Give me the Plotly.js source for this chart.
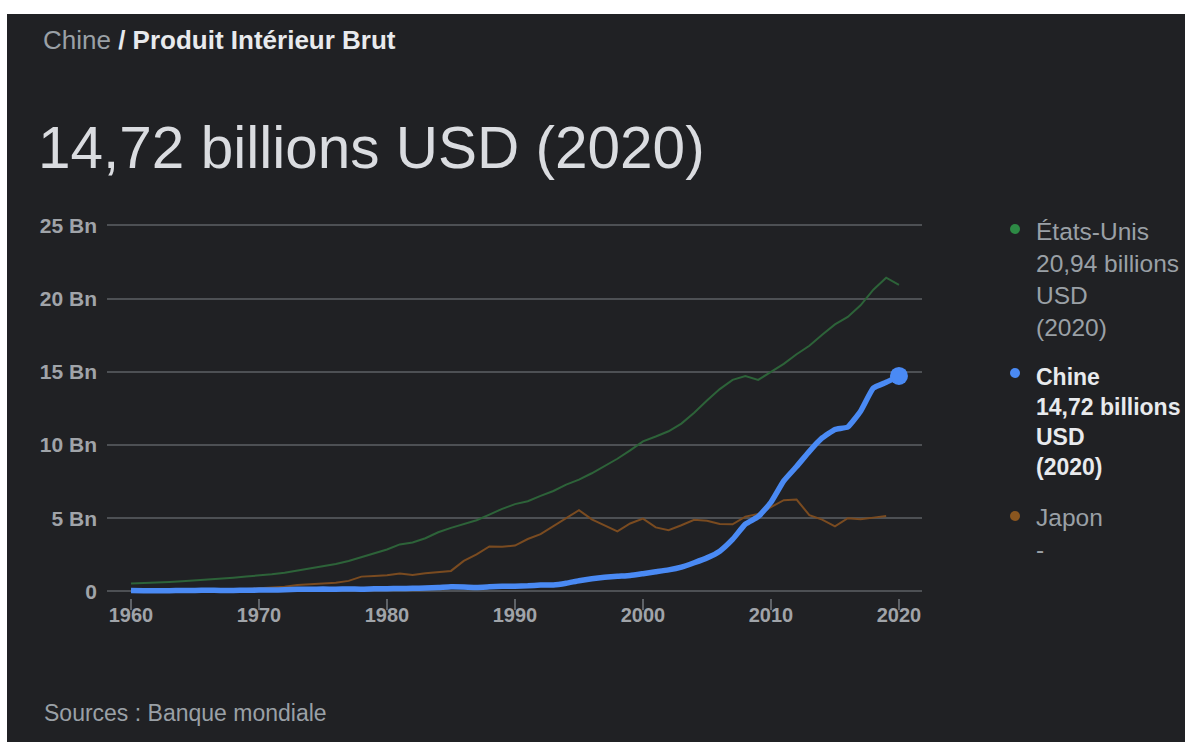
<!DOCTYPE html>
<html>
<head>
<meta charset="utf-8">
<script src="https://cdn.plot.ly/plotly-3.0.1.min.js"></script>
<style>
  html, body { margin: 0; padding: 0; background: #ffffff; width: 1185px; height: 742px; overflow: hidden; }
  #chart { position: absolute; left: 7px; top: 14px; width: 1178px; height: 728px; }
</style>
</head>
<body>
<div id="chart"></div>
<script>
// ---- Data (GDP, trillions of USD = "billions" in French long scale) ----
const years = [1960,1961,1962,1963,1964,1965,1966,1967,1968,1969,
               1970,1971,1972,1973,1974,1975,1976,1977,1978,1979,
               1980,1981,1982,1983,1984,1985,1986,1987,1988,1989,
               1990,1991,1992,1993,1994,1995,1996,1997,1998,1999,
               2000,2001,2002,2003,2004,2005,2006,2007,2008,2009,
               2010,2011,2012,2013,2014,2015,2016,2017,2018,2019,2020];

const usa = [0.54,0.56,0.61,0.64,0.69,0.74,0.82,0.86,0.94,1.02,
             1.07,1.17,1.28,1.43,1.55,1.68,1.87,2.08,2.35,2.63,
             2.86,3.21,3.34,3.63,4.04,4.34,4.58,4.86,5.24,5.64,
             5.96,6.16,6.52,6.86,7.29,7.64,8.07,8.58,9.06,9.63,
             10.25,10.58,10.94,11.46,12.21,13.04,13.82,14.45,14.71,14.45,
             14.99,15.54,16.20,16.78,17.53,18.24,18.75,19.54,20.61,21.43,20.94];

const china = [0.06,0.05,0.05,0.05,0.06,0.07,0.08,0.07,0.07,0.08,
               0.09,0.10,0.11,0.14,0.14,0.16,0.15,0.17,0.15,0.18,
               0.19,0.20,0.21,0.23,0.26,0.31,0.30,0.27,0.31,0.35,
               0.36,0.38,0.43,0.44,0.56,0.73,0.86,0.96,1.03,1.09,
               1.21,1.34,1.47,1.66,1.96,2.29,2.75,3.55,4.59,5.10,
               6.09,7.55,8.53,9.57,10.48,11.06,11.23,12.31,13.89,14.28,14.72];

const japan = [0.04,0.05,0.06,0.07,0.08,0.09,0.11,0.12,0.15,0.17,
               0.21,0.24,0.32,0.43,0.48,0.52,0.59,0.72,1.01,1.06,
               1.11,1.22,1.13,1.24,1.32,1.40,2.08,2.53,3.07,3.05,
               3.13,3.58,3.91,4.45,5.00,5.55,4.92,4.49,4.10,4.64,
               4.97,4.37,4.18,4.52,4.89,4.83,4.60,4.58,5.11,5.29,
               5.76,6.23,6.27,5.21,4.90,4.44,5.00,4.93,5.04,5.15,null];

const xTicks = [1960,1970,1980,1990,2000,2010,2020];
const yTicks = [0,5,10,15,20,25];
const yTickText = ["0","5 Bn","10 Bn","15 Bn","20 Bn","25 Bn"];

const seriesNames = ["États-Unis","Chine","Japon"];
const legendValues = ["20,94 billions<br>USD<br>(2020)","14,72 billions<br>USD<br>(2020)","-"];
const headline = "14,72 billions USD (2020)";
const breadcrumbCountry = "Chine";
const breadcrumbTopic = "Produit Intérieur Brut";
const sourceText = "Sources : Banque mondiale";

// ---- Layout geometry ----
const W = 1178, H = 728, OX = 7, OY = 14;
const M = {l: 100, r: 263, t: 207, b: 144};
const PW = W - M.l - M.r, PH = H - M.t - M.b;
function fx(xPage){ return (xPage - OX - M.l) / PW; }
function fy(yPage){ return (H - M.b - (yPage - OY)) / PH; }

const FONT = "Liberation Sans, Arial, Helvetica, sans-serif";
const GREEN = "#2d6339", BLUE = "#4a8af4", BROWN = "#7a4b20";
const DOT_GREEN = "#2d8a45", DOT_BROWN = "#8a561f";

const traces = [
  {x: years, y: usa, type: "scatter", mode: "lines", line: {color: GREEN, width: 2}, hoverinfo: "skip"},
  {x: years, y: japan, type: "scatter", mode: "lines", line: {color: BROWN, width: 2}, hoverinfo: "skip"},
  {x: years, y: china, type: "scatter", mode: "lines", line: {color: BLUE, width: 5.5, shape: "spline", smoothing: 0.4}, hoverinfo: "skip"},
  {x: [years[years.length-1]], y: [china[china.length-1]], type: "scatter", mode: "markers",
   marker: {color: BLUE, size: 18}, hoverinfo: "skip", cliponaxis: false}
];

function dot(cx, cy, color){
  return {type: "circle", xref: "paper", yref: "paper", layer: "above",
          x0: fx(cx - 5), x1: fx(cx + 5), y0: fy(cy + 5), y1: fy(cy - 5),
          fillcolor: color, line: {width: 0}};
}

const shapes = [dot(1015, 229, DOT_GREEN), dot(1015, 373, BLUE), dot(1015, 516, DOT_BROWN)];

const annotations = [
  {xref: "paper", yref: "paper", x: fx(41), y: fy(40), xanchor: "left", yanchor: "middle", showarrow: false,
   text: '<span style="color:#9aa0a6">' + breadcrumbCountry + '</span> <b>/ ' + breadcrumbTopic + '</b>',
   font: {family: FONT, size: 26, color: "#e8eaed"}},
  {xref: "paper", yref: "paper", x: fx(36), y: fy(147), xanchor: "left", yanchor: "middle", showarrow: false,
   text: headline, font: {family: FONT, size: 58.5, color: "#dadce0"}},
  {xref: "paper", yref: "paper", x: fx(42), y: fy(713), xanchor: "left", yanchor: "middle", showarrow: false,
   text: sourceText, font: {family: FONT, size: 23, color: "#9aa0a6"}},
  // legend texts
  {xref: "paper", yref: "paper", x: fx(1034), y: fy(279), xanchor: "left", yanchor: "middle", showarrow: false, align: "left",
   text: seriesNames[0] + "<br>" + legendValues[0], font: {family: FONT, size: 24.5, color: "#9aa0a6"}},
  {xref: "paper", yref: "paper", x: fx(1034), y: fy(422), xanchor: "left", yanchor: "middle", showarrow: false, align: "left",
   text: "<b>" + seriesNames[1] + "<br>" + legendValues[1] + "</b>", font: {family: FONT, size: 23, color: "#e8eaed"}},
  {xref: "paper", yref: "paper", x: fx(1034), y: fy(533), xanchor: "left", yanchor: "middle", showarrow: false, align: "left",
   text: seriesNames[2] + "<br>" + legendValues[2], font: {family: FONT, size: 24.5, color: "#9aa0a6"}}
];

const layout = {
  width: W, height: H,
  paper_bgcolor: "#202124", plot_bgcolor: "#202124",
  margin: M,
  showlegend: false,
  hovermode: false,
  font: {family: FONT, color: "#9aa0a6"},
  xaxis: {
    range: [1958.125, 2021.8], tickvals: xTicks, ticktext: xTicks.map(String),
    showgrid: false, zeroline: false, showline: false,
    ticks: "outside", ticklen: 11, tickwidth: 2, tickcolor: "#5f6368",
    ticklabelstandoff: -12,
    tickfont: {family: FONT, size: 20, color: "#a0a4a9", weight: "bold"}, fixedrange: true
  },
  yaxis: {
    range: [-0.45, 25.3], tickvals: yTicks, ticktext: yTickText,
    showgrid: true, gridcolor: "#4d5054", gridwidth: 2, zeroline: false, showline: false,
    ticks: "", ticklabelstandoff: 9,
    tickfont: {family: FONT, size: 21, color: "#a0a4a9", weight: "bold"}, fixedrange: true
  },
  shapes: shapes,
  annotations: annotations
};

Plotly.newPlot("chart", traces, layout, {displayModeBar: false, staticPlot: true});
</script>
</body>
</html>
